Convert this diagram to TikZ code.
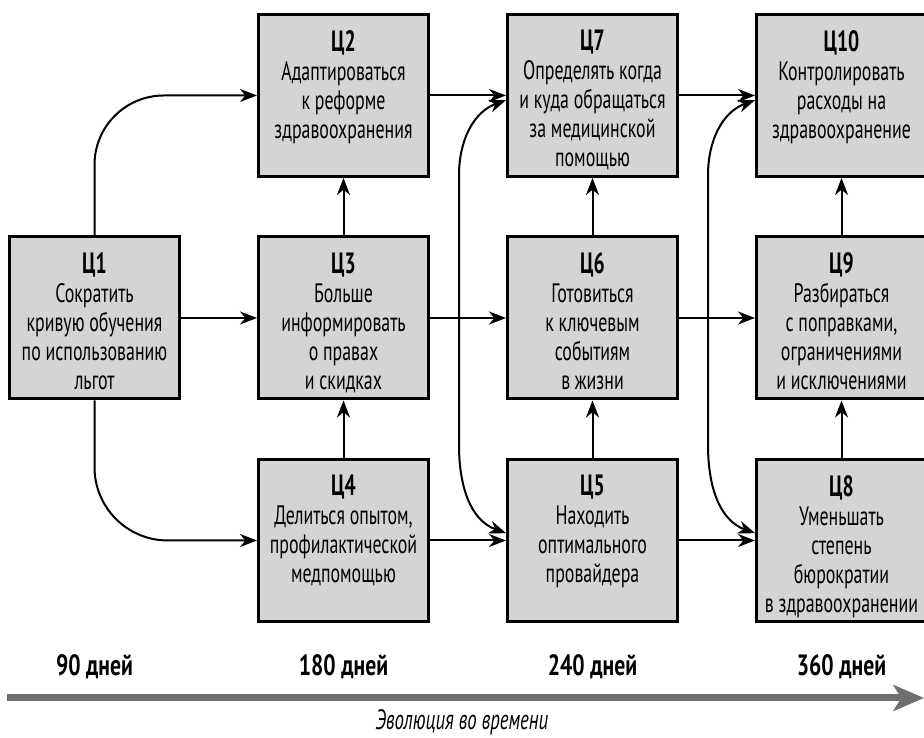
\documentclass[tikz,border=0pt]{standalone}
\usepackage{fontspec}
\setmainfont{PT Sans}[FakeStretch=0.67]
\newfontfamily\dayfont{PT Sans}[FakeStretch=0.74]
\usetikzlibrary{arrows.meta}

\definecolor{boxgray}{HTML}{D4D4D4}
\definecolor{timegray}{HTML}{6F6F6F}

\newcommand{\goal}[2]{\parbox[c][98pt][t]{127pt}{\centering{\fontsize{22}{21.75}\selectfont\textbf{#1}}\\#2}}

\begin{document}
\begin{tikzpicture}[x=0.75pt,y=0.75pt,
    >={Stealth[length=12.75pt,width=9.75pt,inset=4pt]},
    goalbox/.style={draw=black, line width=2.25pt, fill=boxgray,
      minimum width=127.5pt, minimum height=121.5pt, inner sep=0pt,
      font=\fontsize{20}{21.75}\selectfont},
    link/.style={line width=1.5pt},
    daylabel/.style={font=\dayfont\fontsize{22}{22}\selectfont\bfseries},
    timeline/.style={line width=5.25pt, draw=timegray,
      -{Stealth[length=23pt,width=19.5pt,inset=6pt]}}]
        \useasboundingbox (0,0) rectangle (924,738);

            % goals
            \node[goalbox] (c1) at (94.5,420) {\goal{Ц1}{Сократить\\кривую обучения\\по использованию\\льгот}};
            \node[goalbox] (c2) at (343.5,642.5) {\goal{Ц2}{Адаптироваться\\к реформе\\здравоохранения}};
            \node[goalbox] (c3) at (343.5,420) {\goal{Ц3}{Больше\\информировать\\о правах\\и скидках}};
            \node[goalbox] (c4) at (343.5,197.5) {\goal{Ц4}{Делиться опытом,\\профилактической\\медпомощью}};
            \node[goalbox] (c5) at (592.5,197.5) {\goal{Ц5}{Находить\\оптимального\\провайдера}};
            \node[goalbox] (c6) at (592.5,420) {\goal{Ц6}{Готовиться\\к ключевым\\событиям\\в жизни}};
            \node[goalbox] (c7) at (592.5,642.5) {\goal{Ц7}{Определять когда\\и куда обращаться\\за медицинской\\помощью}};
            \node[goalbox] (c8) at (841.5,197.5) {\goal{Ц8}{Уменьшать\\степень\\бюрократии\\в здравоохранении}};
            \node[goalbox] (c9) at (841.5,420) {\goal{Ц9}{Разбираться\\с поправками,\\ограничениями\\и исключениями}};
            \node[goalbox] (c10) at (841.5,642.5) {\goal{Ц10}{Контролировать\\расходы на\\здравоохранение}};

            \foreach \a/\b in {c1/c3,c2/c7,c3/c6,c4/c5,c7/c10,c6/c9,c5/c8}{
              \draw[link,->] (\a) -- (\b);
            }

            \foreach \a/\b in {c3/c2,c4/c3,c5/c6,c6/c7,c8/c9,c9/c10}{
              \draw[link,->] (\a) -- (\b);
            }

            \draw[link,->,rounded corners=52pt] (c1.north) |- (c2.west);
            \draw[link,->,rounded corners=55pt] (c1.south) |- (c4.west);

            % bends of the two long links
            \coordinate (upA) at (459,563);
            \coordinate (downA) at (459,293);
            \coordinate (upB) at (708,563);
            \coordinate (downB) at (708,293);

            \draw[link,<->] ([yshift=-3.5pt]c7.west) to[out=200,in=90] (upA) -- (downA) to[out=270,in=160] ([yshift=5.5pt]c5.west);
            \draw[link,<->] ([yshift=-3.5pt]c10.west) to[out=200,in=90] (upB) -- (downB) to[out=270,in=160] ([yshift=5.5pt]c8.west);

            % time axis
            \foreach \x/\days in {94.5/90,343.5/180,592.5/240,841.5/360}{
              \node[daylabel] (t\days) at (\x,71) {\days{} дней};
            }

            \coordinate (tstart) at (7,40);
            \coordinate (tend) at (924,40);
            \draw[timeline] (tstart) -- (tend);
            \node[font=\fontsize{21}{22}\selectfont\itshape] (evol) at (462,16) {Эволюция во времени};
        \end{tikzpicture}
\end{document}
